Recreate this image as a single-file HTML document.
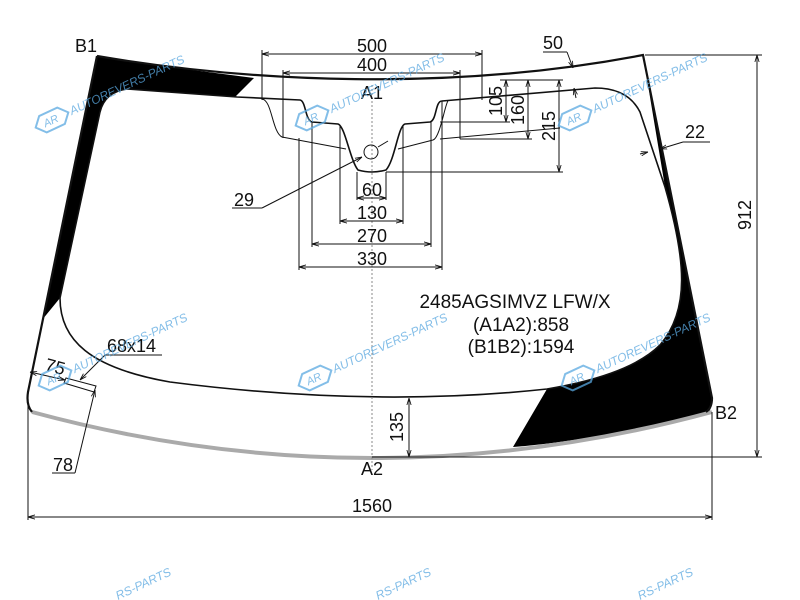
<!DOCTYPE html>
<html><head><meta charset="utf-8"><style>
html,body{margin:0;padding:0;background:#fff;width:800px;height:600px;overflow:hidden;}
svg{display:block;font-family:"Liberation Sans","DejaVu Sans",sans-serif;}
.t{font-size:18px;fill:#111;}
.m{font-size:19px;fill:#111;}
.w{font-size:12px;fill:#5aa8e0;opacity:.75;font-style:italic;}
</style></head><body>
<svg width="800" height="600" viewBox="0 0 800 600" xmlns="http://www.w3.org/2000/svg" overflow="hidden">
<defs>
<marker id="a" viewBox="0 0 10 10" refX="10" refY="5" markerWidth="7" markerHeight="7" orient="auto-start-reverse"><path d="M0,2 L10,5 L0,8" fill="none" stroke="#111" stroke-width="1.2"/></marker>
<g id="wm">
<path d="M-10,-9 L10,-9 L18,0 L10,9 L-10,9 L-18,0 Z" transform="rotate(-25)" fill="none" stroke="#5aa8e0" stroke-width="2" opacity=".75"/>
<text x="-9" y="4" transform="rotate(-25)" font-size="11" fill="#5aa8e0" opacity=".75" font-style="italic">AR</text>
<text class="w" x="20" y="4" transform="rotate(-25)">AUTOREVERS-PARTS</text>
</g>
<g id="wm2">
<text class="w" x="0" y="0" transform="rotate(-25)">RS-PARTS</text>
</g>
</defs>

<path d="M97,56 L140,63 L200,71 L254,78 L235,97 L127,89 Q105,92 100,112 L60,298 L42,320 Z" fill="#000"/>
<path d="M643,55 L712,398 Q712,410 708,412 Q600,440 513,447 L547,389 Q630,375 660,345 C690,310 686,260 665,187 Z" fill="#000"/>

<path d="M32,412 Q372,504 712,412" fill="none" stroke="#aaa" stroke-width="4"/>

<path d="M97,56 C250,82 450,92 643,55 L712,398 Q712,408 706,412 M32,412 Q26,405 28,392 L97,56" fill="none" stroke="#111" stroke-width="2.2"/>

<path d="M127,89 L237,97 L300,100 C306,101 305,120 312,122 L338,124 C345,126 350,160 358,170 Q372,174 386,170 C395,160 398,126 405,124 L430,122 C437,120 435,101 442,101 L595,88 Q628,88 640,112 L665,187 C686,260 690,310 660,345 Q630,375 547,389 Q372,408 170,382 C90,368 60,340 60,298 L100,112 Q105,92 127,89 Z" fill="none" stroke="#111" stroke-width="1.6"/>
<path d="M262,99 C272,100 272,132 282,137 L346,149 M398,149 L433,140 C440,138 445,104 448,101 M440,139 L560,128" fill="none" stroke="#111" stroke-width="1"/>

<line x1="372" y1="85" x2="372" y2="470" stroke="#888" stroke-width="1" stroke-dasharray="2,2"/>

<g stroke="#111" stroke-width="1" fill="none">
<line x1="262" y1="54" x2="482" y2="54" marker-start="url(#a)" marker-end="url(#a)"/>
<line x1="262" y1="50" x2="262" y2="100"/><line x1="482" y1="50" x2="482" y2="100"/>
<line x1="283" y1="73" x2="460" y2="73" marker-start="url(#a)" marker-end="url(#a)"/>
<line x1="283" y1="70" x2="283" y2="138"/><line x1="460" y1="70" x2="460" y2="139"/>
<line x1="357" y1="172" x2="357" y2="200"/><line x1="386" y1="172" x2="386" y2="200"/>
<line x1="357" y1="198" x2="386" y2="198" marker-start="url(#a)" marker-end="url(#a)"/>
<line x1="340" y1="125" x2="340" y2="224"/><line x1="403" y1="125" x2="403" y2="224"/>
<line x1="340" y1="221" x2="403" y2="221" marker-start="url(#a)" marker-end="url(#a)"/>
<line x1="312" y1="122" x2="312" y2="247"/><line x1="431" y1="122" x2="431" y2="247"/>
<line x1="312" y1="244" x2="431" y2="244" marker-start="url(#a)" marker-end="url(#a)"/>
<line x1="299" y1="138" x2="299" y2="270"/><line x1="442" y1="101" x2="442" y2="270"/>
<line x1="299" y1="267" x2="442" y2="267" marker-start="url(#a)" marker-end="url(#a)"/>
<circle cx="371" cy="152" r="7"/>
<line x1="232" y1="208" x2="262" y2="208"/>
<line x1="262" y1="208" x2="362" y2="157" marker-end="url(#a)"/>
<line x1="378" y1="147" x2="388" y2="141"/>
<line x1="500" y1="80" x2="563" y2="80"/>
<line x1="440" y1="122" x2="510" y2="122"/>
<line x1="460" y1="139" x2="532" y2="139"/>
<line x1="386" y1="172" x2="563" y2="172"/>
<line x1="506" y1="80" x2="506" y2="122" marker-start="url(#a)" marker-end="url(#a)"/>
<line x1="528" y1="80" x2="528" y2="139" marker-start="url(#a)" marker-end="url(#a)"/>
<line x1="559" y1="80" x2="559" y2="172" marker-start="url(#a)" marker-end="url(#a)"/>
<line x1="543" y1="52" x2="567" y2="52"/>
<line x1="567" y1="52" x2="573" y2="68" marker-end="url(#a)"/>
<line x1="576" y1="98" x2="574" y2="88" marker-end="url(#a)"/>
<line x1="683" y1="142" x2="710" y2="142"/>
<line x1="683" y1="142" x2="660" y2="149" marker-end="url(#a)"/>
<line x1="640" y1="154" x2="648" y2="152" marker-end="url(#a)"/>
<line x1="645" y1="55" x2="762" y2="55"/>
<line x1="372" y1="457" x2="762" y2="457"/>
<line x1="757" y1="55" x2="757" y2="457" marker-start="url(#a)" marker-end="url(#a)"/>
<line x1="409" y1="398" x2="409" y2="457" marker-start="url(#a)" marker-end="url(#a)"/>
<line x1="28" y1="400" x2="28" y2="520"/><line x1="712" y1="412" x2="712" y2="520"/>
<line x1="28" y1="517" x2="712" y2="517" marker-start="url(#a)" marker-end="url(#a)"/>
<path d="M66,378 L96,386 L94,392 L64,383 Z"/>
<line x1="105" y1="355" x2="162" y2="355"/>
<line x1="105" y1="355" x2="80" y2="380" marker-end="url(#a)"/>
<line x1="30" y1="372" x2="65" y2="380" marker-start="url(#a)" marker-end="url(#a)"/>
<line x1="52" y1="473" x2="75" y2="473"/>
<line x1="75" y1="473" x2="95" y2="390" marker-end="url(#a)"/>
</g>

<text class="t" x="372" y="52" text-anchor="middle">500</text>
<text class="t" x="372" y="71" text-anchor="middle">400</text>
<text class="t" x="372" y="99" text-anchor="middle">A1</text>
<text class="t" x="372" y="196" text-anchor="middle">60</text>
<text class="t" x="372" y="219" text-anchor="middle">130</text>
<text class="t" x="372" y="242" text-anchor="middle">270</text>
<text class="t" x="372" y="265" text-anchor="middle">330</text>
<text class="t" x="234" y="206">29</text>
<text class="t" x="75" y="52">B1</text>
<text class="t" x="543" y="49">50</text>
<text class="t" x="685" y="138">22</text>
<text class="t" transform="translate(502,101) rotate(-90)" text-anchor="middle">105</text>
<text class="t" transform="translate(524,110) rotate(-90)" text-anchor="middle">160</text>
<text class="t" transform="translate(555,126) rotate(-90)" text-anchor="middle">215</text>
<text class="t" transform="translate(751,215) rotate(-90)" text-anchor="middle">912</text>
<text class="t" transform="translate(403,427) rotate(-90)" text-anchor="middle">135</text>
<text class="m" x="515" y="308" text-anchor="middle">2485AGSIMVZ LFW/X</text>
<text class="m" x="521" y="331" text-anchor="middle">(A1A2):858</text>
<text class="m" x="521" y="353" text-anchor="middle">(B1B2):1594</text>
<text class="t" x="107" y="352">68x14</text>
<text class="t" transform="translate(44,370) rotate(15)">75</text>
<text class="t" x="53" y="471">78</text>
<text class="t" x="372" y="475" text-anchor="middle">A2</text>
<text class="t" x="715" y="419">B2</text>
<text class="t" x="372" y="512" text-anchor="middle">1560</text>

<use href="#wm" x="52" y="120"/>
<use href="#wm" x="312" y="118"/>
<use href="#wm" x="575" y="118"/>
<use href="#wm" x="55" y="378"/>
<use href="#wm" x="315" y="378"/>
<use href="#wm" x="578" y="378"/>
<use href="#wm2" x="118" y="600"/>
<use href="#wm2" x="378" y="600"/>
<use href="#wm2" x="640" y="600"/>
</svg>
</body></html>
